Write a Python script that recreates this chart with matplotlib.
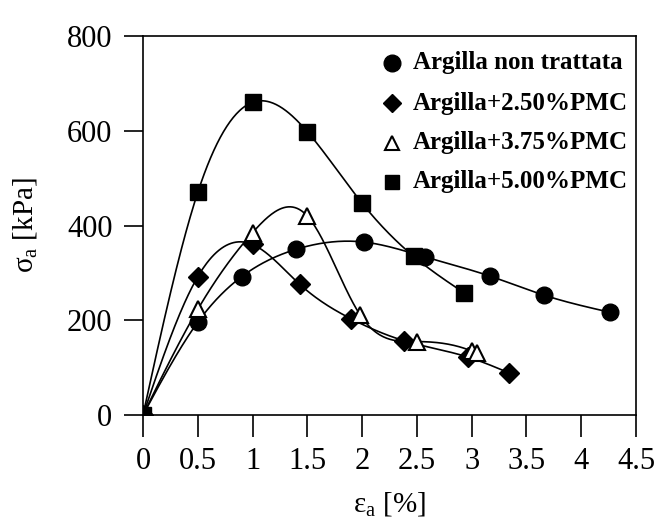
import numpy as np
import matplotlib
matplotlib.use("Agg")
import matplotlib.pyplot as plt

# Data
labels = ["Argilla non trattata", "Argilla+2.50%PMC", "Argilla+3.75%PMC", "Argilla+5.00%PMC"]
markers = ["o", "D", "^", "s"]

x_untreated = [0.0, 0.5, 0.9, 1.4, 2.02, 2.57, 3.17, 3.66, 4.26]
y_untreated = [0, 196, 292, 350, 365, 334, 293, 253, 217]

x_250 = [0.0, 0.5, 1.0, 1.43, 1.9, 2.38, 2.97, 3.34]
y_250 = [0, 292, 360, 276, 203, 157, 122, 89]

x_375 = [0.0, 0.5, 1.0, 1.5, 1.98, 2.5, 3.0, 3.05]
y_375 = [0, 223, 385, 420, 212, 155, 135, 130]

x_500 = [0.0, 0.5, 1.0, 1.5, 2.0, 2.47, 2.93]
y_500 = [0, 470, 660, 598, 447, 335, 258]

series = [(x_untreated, y_untreated), (x_250, y_250), (x_375, y_375), (x_500, y_500)]


def natural_spline(x, y, n=300):
    x = np.asarray(x, float)
    y = np.asarray(y, float)
    m = len(x)
    h = np.diff(x)
    A = np.zeros((m, m))
    b = np.zeros(m)
    A[0, 0] = 1
    A[-1, -1] = 1
    for i in range(1, m - 1):
        A[i, i - 1] = h[i - 1]
        A[i, i] = 2 * (h[i - 1] + h[i])
        A[i, i + 1] = h[i]
        b[i] = 3 * ((y[i + 1] - y[i]) / h[i] - (y[i] - y[i - 1]) / h[i - 1])
    c = np.linalg.solve(A, b)
    xs = np.linspace(x[0], x[-1], n)
    ys = np.empty_like(xs)
    for k, xv in enumerate(xs):
        i = min(np.searchsorted(x, xv, side="right") - 1, m - 2)
        d = xv - x[i]
        bi = (y[i + 1] - y[i]) / h[i] - h[i] * (2 * c[i] + c[i + 1]) / 3
        di = (c[i + 1] - c[i]) / (3 * h[i])
        ys[k] = y[i] + bi * d + c[i] * d ** 2 + di * d ** 3
    return xs, ys


plt.rcParams["font.family"] = ["Liberation Serif", "DejaVu Serif"]
plt.rcParams["mathtext.fontset"] = "stix"

fig = plt.figure(figsize=(6.56, 5.25), dpi=100)
ax = fig.add_axes([0.218, 0.2095, 0.7515, 0.7219])

for (xs, ys), mk in zip(series, markers):
    sx, sy = natural_spline(xs, ys)
    ax.plot(sx, sy, color="black", lw=1.2, zorder=2)
    if mk == "^":
        ax.plot(xs, ys, linestyle="none", marker=mk, ms=12, mfc="white",
                mec="black", mew=1.5, zorder=3)
    else:
        ms = {"o": 12, "D": 10, "s": 11}[mk]
        ax.plot(xs, ys, linestyle="none", marker=mk, ms=ms, color="black", zorder=3)

ax.set_xlim(0, 4.5)
ax.set_ylim(0, 800)
ax.set_xticks([0, 0.5, 1, 1.5, 2, 2.5, 3, 3.5, 4, 4.5])
ax.set_xticklabels(["0", "0.5", "1", "1.5", "2", "2.5", "3", "3.5", "4", "4.5"])
ax.set_yticks([0, 200, 400, 600, 800])
ax.set_yticklabels(["0", "200", "400", "600", "800"])
ax.tick_params(axis="y", direction="out", length=14, width=1.2, labelsize=22, pad=8)
ax.tick_params(axis="x", direction="out", length=16, width=1.2, labelsize=22, pad=7)
for s in ax.spines.values():
    s.set_linewidth(1.2)

ax.set_ylabel(r"$\mathregular{\sigma_a}$ [kPa]", fontsize=21, labelpad=20)
ax.set_xlabel(r"$\mathregular{\epsilon_a}$ [%]", fontsize=21, labelpad=10)

# legend drawn manually
ly = [0.929, 0.823, 0.718, 0.615]
for mk, lab, yy in zip(markers, labels, ly):
    if mk == "^":
        ax.plot([0.505], [yy], marker=mk, ms=10, mfc="white", mec="black", mew=1.5,
                transform=ax.transAxes, clip_on=False, linestyle="none")
    else:
        ms = {"o": 12, "D": 9, "s": 10}[mk]
        ax.plot([0.505], [yy], marker=mk, ms=ms, color="black",
                transform=ax.transAxes, clip_on=False, linestyle="none")
    ax.text(0.548, yy, lab, transform=ax.transAxes, va="center", ha="left",
            fontsize=18, fontweight="bold")

fig.savefig("out.png", dpi=100)
